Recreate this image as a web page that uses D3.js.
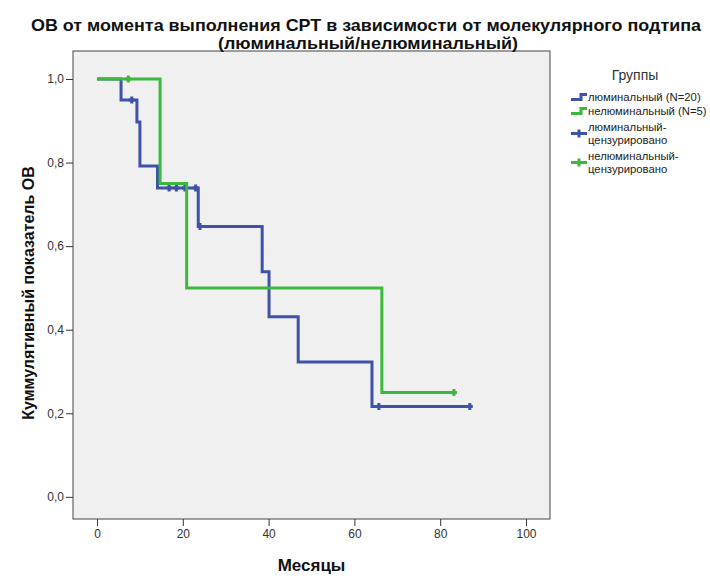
<!DOCTYPE html>
<html>
<head>
<meta charset="utf-8">
<script src="https://cdn.jsdelivr.net/npm/d3@7"></script>
<style>
  body { margin: 0; background: #fff; }
  text { font-family: "Liberation Sans", Arial, sans-serif; }
</style>
</head>
<body>
<div id="chart"></div>
<script>
// Kaplan-Meier steps
var lumTimes = [0, 5.6, 9.3, 10.0, 14.1, 23.6, 38.5, 40.1, 46.9, 64.1]
var lumSurv = [1, 0.95, 0.897, 0.792, 0.739, 0.647, 0.539, 0.431, 0.323, 0.216]
var lumEnd = 86.9
var lumCensored = [8.1, 16.8, 18.5, 20.5, 23.0, 24.0, 65.7, 86.9]

var nonTimes = [0, 14.7, 20.9, 66.4]
var nonSurv = [1, 0.75, 0.5, 0.25]
var nonEnd = 83.2
var nonCensored = [7.3, 83.2]

var xTicks = [0, 20, 40, 60, 80, 100]
var yTicks = [0, 0.2, 0.4, 0.6, 0.8, 1.0]

var legendLabels = [
  ["люминальный (N=20)"],
  ["нелюминальный (N=5)"],
  ["люминальный-", "цензурировано"],
  ["нелюминальный-", "цензурировано"]
]

var blue = "#3f52a9"
var green = "#3cb83c"

var width = 710, height = 576
var plot = { left: 73, right: 550, top: 51, bottom: 519 }

var svg = d3.select("#chart").append("svg")
  .attr("width", width)
  .attr("height", height)

var x = d3.scaleLinear().domain([-5.6, 105.6]).range([plot.left, plot.right])
var y = d3.scaleLinear().domain([-0.053, 1.067]).range([plot.bottom, plot.top])

var locale = d3.formatLocale({ decimal: ",", thousands: " ", grouping: [3], currency: ["", ""] })

// plot background
svg.append("rect")
  .attr("x", plot.left)
  .attr("y", plot.top)
  .attr("width", plot.right - plot.left)
  .attr("height", plot.bottom - plot.top)
  .attr("fill", "#f0f0f0")

// axes
var xAxis = svg.append("g")
  .attr("transform", `translate(0,${plot.bottom})`)
  .call(d3.axisBottom(x).tickValues(xTicks).tickSize(7).tickPadding(3))
var yAxis = svg.append("g")
  .attr("transform", `translate(${plot.left},0)`)
  .call(d3.axisLeft(y).tickValues(yTicks).tickSize(7).tickPadding(2).tickFormat(locale.format(".1f")))

;[xAxis, yAxis].forEach(g => {
  g.select(".domain").remove()
  g.selectAll(".tick line").attr("stroke", "#333")
  g.selectAll(".tick text")
    .attr("fill", "#333")
    .style("font-size", "12px")
    .style("font-family", "'Liberation Sans', Arial, sans-serif")
})

// frame
svg.append("rect")
  .attr("x", plot.left)
  .attr("y", plot.top)
  .attr("width", plot.right - plot.left)
  .attr("height", plot.bottom - plot.top)
  .attr("fill", "none")
  .attr("stroke", "#444")
  .attr("stroke-width", 1)

// curves
var line = d3.line()
  .x(d => x(d[0]))
  .y(d => y(d[1]))
  .curve(d3.curveStepAfter)

function stepPoints(times, surv, end) {
  var pts = times.map((t, i) => [t, surv[i]])
  pts.push([end, surv[surv.length - 1]])
  return pts
}

function survAt(times, surv, t) {
  var s = surv[0]
  times.forEach((tt, i) => { if (tt <= t) s = surv[i] })
  return s
}

function drawGroup(times, surv, end, censored, color) {
  var g = svg.append("g")
  g.append("path")
    .datum(stepPoints(times, surv, end))
    .attr("d", line)
    .attr("fill", "none")
    .attr("stroke", color)
    .attr("stroke-width", 3)

  g.selectAll(".cens")
    .data(censored)
    .enter().append("path")
    .attr("class", "cens")
    .attr("d", t => {
      var cx = x(t), cy = y(survAt(times, surv, t))
      return `M${cx},${cy - 3.5}V${cy + 3.5}M${cx - 3},${cy}H${cx + 3}`
    })
    .attr("stroke", color)
    .attr("stroke-width", 3)
}

drawGroup(lumTimes, lumSurv, lumEnd, lumCensored, blue)
drawGroup(nonTimes, nonSurv, nonEnd, nonCensored, green)

// title
var title = svg.append("g")
  .attr("font-weight", "bold")
  .attr("font-size", "17px")
  .attr("text-anchor", "middle")
  .attr("fill", "#111")
title.append("text")
  .attr("x", 366).attr("y", 31)
  .attr("textLength", 670).attr("lengthAdjust", "spacingAndGlyphs")
  .text("ОВ от момента выполнения СРТ в зависимости от молекулярного подтипа")
title.append("text")
  .attr("x", 368).attr("y", 49)
  .attr("textLength", 300).attr("lengthAdjust", "spacingAndGlyphs")
  .text("(люминальный/нелюминальный)")

// axis titles
svg.append("text")
  .attr("x", (plot.left + plot.right) / 2)
  .attr("y", 571)
  .attr("text-anchor", "middle")
  .attr("font-weight", "bold")
  .attr("font-size", "17px")
  .attr("fill", "#111")
  .text("Месяцы")

svg.append("text")
  .attr("transform", "translate(34,293) rotate(-90)")
  .attr("text-anchor", "middle")
  .attr("font-weight", "bold")
  .attr("font-size", "16px")
  .attr("fill", "#111")
  .text("Куммулятивный показатель ОВ")

// legend
var legend = svg.append("g").attr("font-size", "11.3px").attr("fill", "#222")
legend.append("text")
  .attr("x", 635).attr("y", 80)
  .attr("text-anchor", "middle")
  .attr("font-size", "14px")
  .attr("fill", "#333")
  .text("Группы")

var rowY = [97, 111, 133.5, 162.5]
var rowColor = [blue, green, blue, green]
var sx0 = 571, sx1 = 587

legendLabels.forEach((lines, i) => {
  var cy = rowY[i]
  var c = rowColor[i]
  if (i < 2) {
    legend.append("path")
      .attr("d", `M${sx0},${cy + 2.5}H${sx0 + 10}V${cy - 2.5}H${sx1}`)
      .attr("fill", "none")
      .attr("stroke", c)
      .attr("stroke-width", 3)
  } else {
    legend.append("path")
      .attr("d", `M${sx0},${cy}H${sx1}M${sx0 + 8},${cy - 4}V${cy + 4}`)
      .attr("fill", "none")
      .attr("stroke", c)
      .attr("stroke-width", 3)
  }
  var t = legend.append("text")
    .attr("x", sx1 + 1)
    .attr("y", cy + 4 - (lines.length - 1) * 6.5)
  lines.forEach((s, j) => {
    t.append("tspan")
      .attr("x", sx1 + 1)
      .attr("dy", j === 0 ? 0 : 13)
      .text(s)
  })
})
</script>
</body>
</html>
